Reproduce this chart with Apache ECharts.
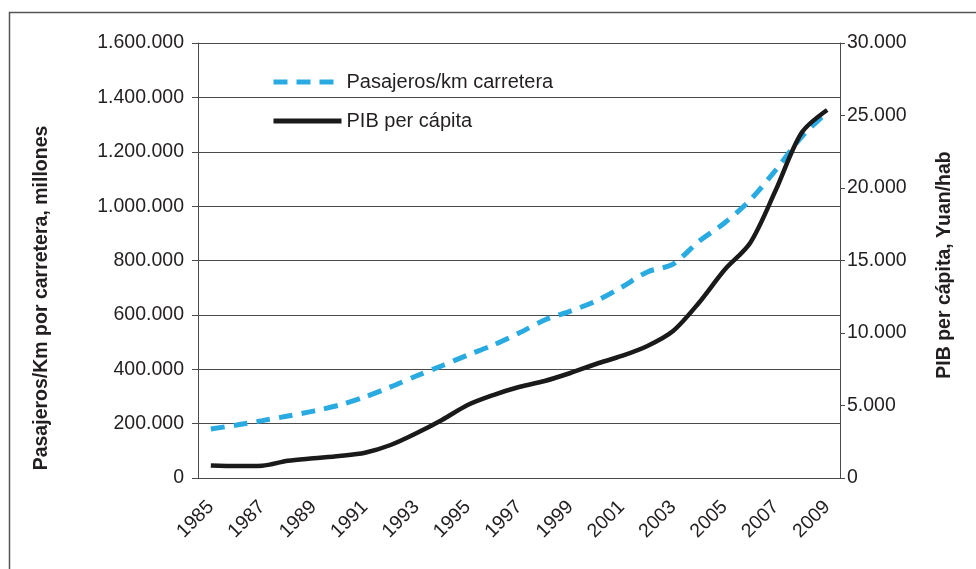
<!DOCTYPE html>
<html>
<head>
<meta charset="utf-8">
<script src="https://cdn.jsdelivr.net/npm/echarts@6/dist/echarts.min.js"></script>
<style>
    html, body { margin: 0; padding: 0; background: #fff; }
    #chart { width: 976px; height: 569px; }
</style>
</head>
<body>
<div id="chart"></div>
<script>
// años
const years = ["1985", "1986", "1987", "1988", "1989", "1990", "1991", "1992", "1993", "1994",
    "1995", "1996", "1997", "1998", "1999", "2000", "2001", "2002", "2003", "2004",
    "2005", "2006", "2007", "2008", "2009"];

// Pasajeros/km por carretera, millones (eje izquierdo)
const pasajerosKm = [180000, 195000, 211000, 228000, 246000, 268000, 298000, 335000, 375000, 413000,
    452000, 489000, 533000, 581000, 614000, 651000, 702000, 758000, 787000, 870000,
    938000, 1022000, 1133000, 1254000, 1346000];

// PIB per cápita, Yuan/hab (eje derecho)
const pibPerCapita = [870, 830, 850, 1190, 1358, 1517, 1745, 2276, 3083, 4000,
    5035, 5724, 6276, 6690, 7241, 7862, 8414, 9104, 10138, 12069,
    14345, 16207, 19863, 23793, 25380];

const textColor = "#231f20";
const gridColor = "#4a4a4a";
const fontFamily = "'Liberation Sans', Arial, sans-serif";

function fmt(v) {
    return String(v).replace(/\B(?=(\d{3})+(?!\d))/g, ".");
}

const chart = echarts.init(document.getElementById("chart"));

chart.setOption({
    animation: false,
    textStyle: { fontFamily: fontFamily, color: textColor },
    grid: {
        left: 198,
        right: 136,
        top: 43,
        bottom: 91
    },
    legend: {
        orient: "vertical",
        left: 266,
        top: 67,
        itemWidth: 68,
        itemHeight: 14,
        itemGap: 19,
        itemStyle: { opacity: 0 },
        lineStyle: { width: 5 },
        textStyle: { fontSize: 20, color: textColor, fontFamily: fontFamily },
        data: ["Pasajeros/km carretera", "PIB per cápita"]
    },
    xAxis: {
        type: "category",
        data: years,
        boundaryGap: true,
        axisLine: { lineStyle: { color: gridColor, width: 1 } },
        axisTick: { show: false },
        axisLabel: {
            interval: 1,
            rotate: 45,
            margin: 26,
            fontSize: 19.5,
            color: textColor
        }
    },
    yAxis: [
        {
            type: "value",
            min: 0,
            max: 1600000,
            interval: 200000,
            position: "left",
            axisLine: { show: true, lineStyle: { color: gridColor, width: 1 } },
            axisTick: { show: true, length: 6, lineStyle: { color: gridColor } },
            splitLine: { show: true, lineStyle: { color: gridColor, width: 1 } },
            axisLabel: {
                margin: 14,
                fontSize: 19.5,
                color: textColor,
                formatter: fmt
            }
        },
        {
            type: "value",
            min: 0,
            max: 30000,
            interval: 5000,
            position: "right",
            axisLine: { show: true, lineStyle: { color: gridColor, width: 1 } },
            axisTick: { show: true, length: 5, lineStyle: { color: gridColor } },
            splitLine: { show: false },
            axisLabel: {
                margin: 7,
                fontSize: 19.5,
                color: textColor,
                formatter: fmt
            }
        }
    ],
    series: [
        {
            name: "Pasajeros/km carretera",
            type: "line",
            yAxisIndex: 0,
            data: pasajerosKm,
            smooth: 0.3,
            symbol: "none",
            lineStyle: {
                color: "#29abe2",
                width: 5,
                type: [14, 9]
            },
            itemStyle: { color: "#29abe2" }
        },
        {
            name: "PIB per cápita",
            type: "line",
            yAxisIndex: 1,
            data: pibPerCapita,
            smooth: 0.3,
            symbol: "none",
            lineStyle: {
                color: "#1a1a1a",
                width: 4.5
            },
            itemStyle: { color: "#1a1a1a" }
        }
    ],
    graphic: [
        {
            type: "rect",
            shape: { x: 9.5, y: 12.5, width: 1000, height: 600 },
            style: { fill: null, stroke: "#555", lineWidth: 1.5 },
            silent: true
        },
        {
            type: "text",
            x: 42,
            y: 298,
            rotation: Math.PI / 2,
            style: {
                text: "Pasajeros/Km por carretera, millones",
                font: "bold 19.5px " + fontFamily,
                fill: textColor,
                align: "center",
                verticalAlign: "middle"
            }
        },
        {
            type: "text",
            x: 945,
            y: 265,
            rotation: Math.PI / 2,
            style: {
                text: "PIB per cápita, Yuan/hab",
                font: "bold 19.5px " + fontFamily,
                fill: textColor,
                align: "center",
                verticalAlign: "middle"
            }
        }
    ]
});
</script>
</body>
</html>
